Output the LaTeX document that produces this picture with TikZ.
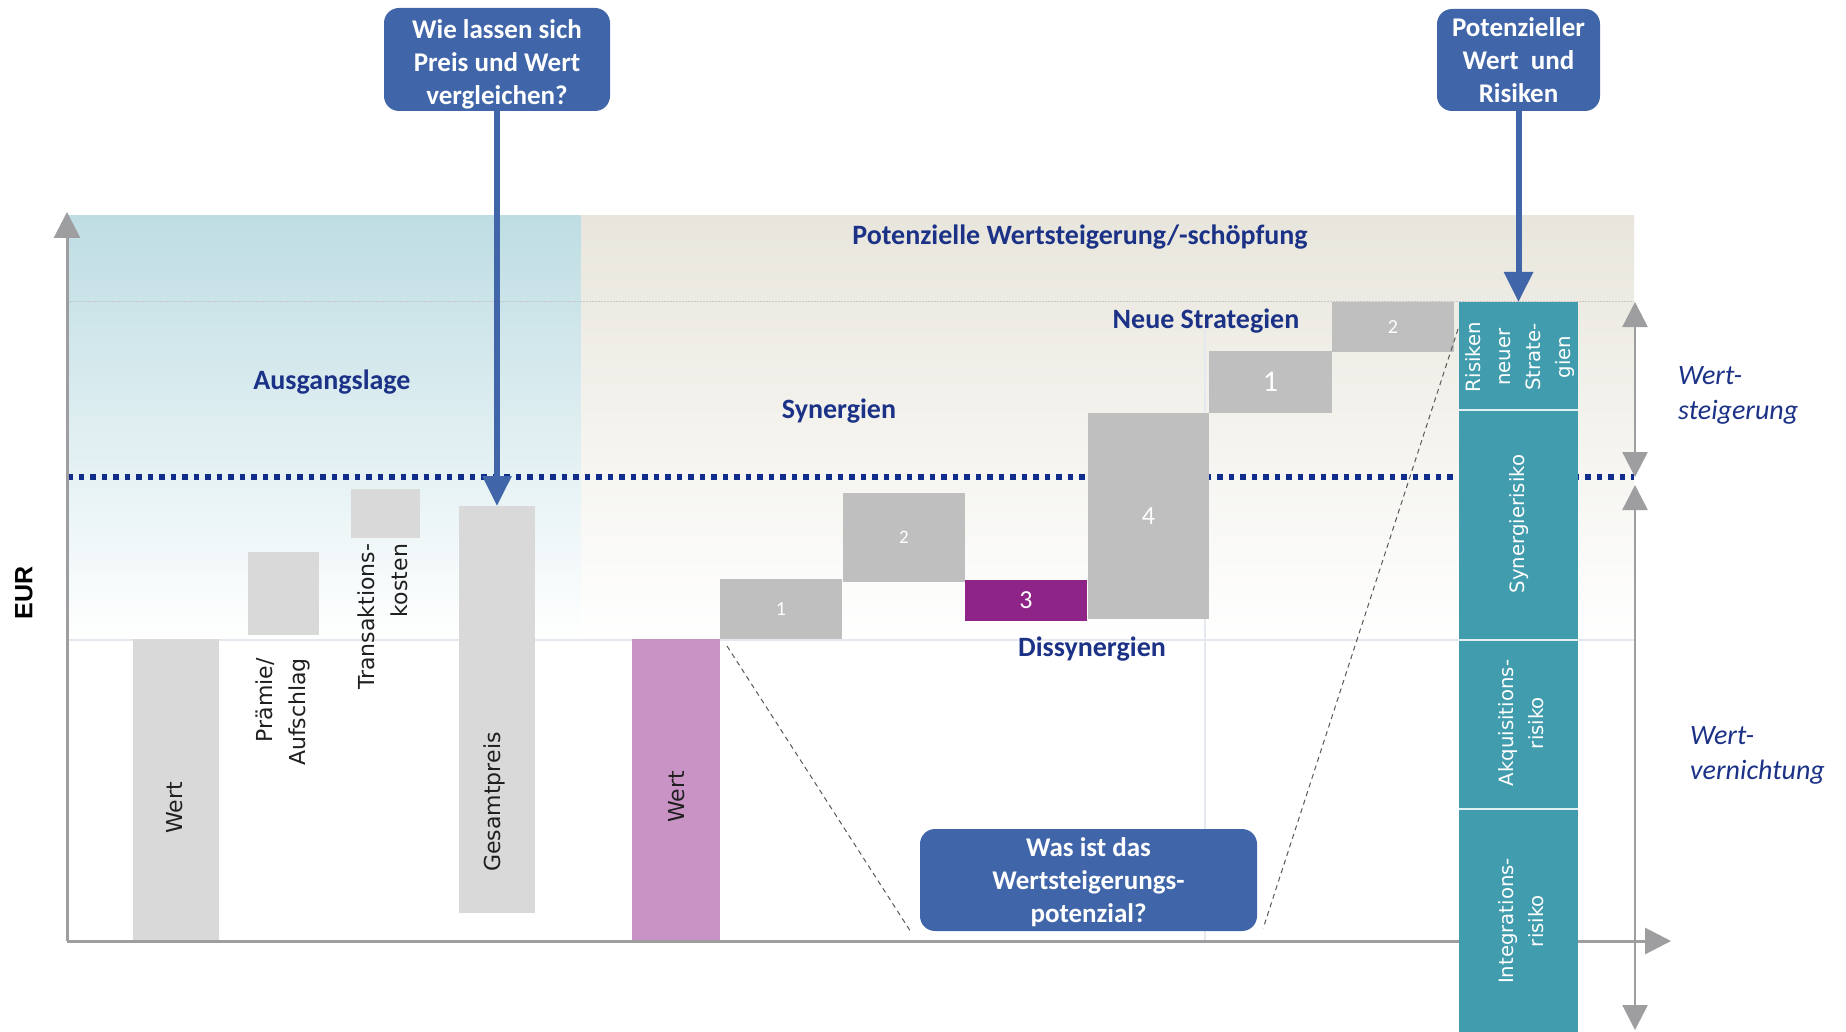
\documentclass[tikz,border=0pt]{standalone}
\usepackage{fontspec}
\setmainfont{Carlito}
\newfontfamily\barfont{DejaVu Sans}
\newfontfamily\axisfont{Liberation Sans}
\usetikzlibrary{arrows.meta,calc}

\definecolor{navy}{RGB}{27,50,135}
\definecolor{calloutblue}{RGB}{64,102,169}
\definecolor{riskteal}{RGB}{65,157,174}
\definecolor{barlight}{RGB}{217,217,217}
\definecolor{barmid}{RGB}{191,191,191}
\definecolor{dissyn}{RGB}{142,36,136}
\definecolor{valuepink}{RGB}{201,147,198}
\definecolor{axisgray}{RGB}{158,158,160}
\definecolor{dotnavy}{RGB}{16,45,140}
\definecolor{bluetop}{RGB}{190,221,227}
\definecolor{beigetop}{RGB}{232,230,220}
\definecolor{faintline}{RGB}{228,233,240}

% extra room above the first line of a question box
\newcommand\firstlinegap{\rule{0pt}{28pt}}

\tikzset{
  bar/.style={rectangle, inner sep=0pt, outer sep=0pt, draw=none},
  num/.style={text=white, font=\fontsize{#1}{#1}\selectfont},
  callout/.style={rectangle, rounded corners=15pt, fill=calloutblue, text=white,
    font=\bfseries\fontsize{27}{33}\selectfont, align=center, inner sep=0pt},
  navylabel/.style={text=navy, font=\bfseries\fontsize{28}{34}\selectfont, inner sep=0pt},
  italiclabel/.style={text=navy, font=\itshape\fontsize{28}{35}\selectfont, inner sep=0pt, align=left},
  rotlabel/.style={rotate=90, font=\barfont\fontsize{22}{33}\selectfont, inner sep=0pt, text=black!88},
  risklabel/.style={rotate=90, font=\barfont\fontsize{19.7}{30}\selectfont, inner sep=0pt, text=white, align=center},
  axisline/.style={draw=axisgray, line width=3pt, -{Triangle[length=26pt,width=26pt]}},
  rangearrow/.style={draw=axisgray, line width=2.5pt,
    {Triangle[length=25pt,width=25pt]}-{Triangle[length=25pt,width=25pt]}},
  callarrow/.style={draw=calloutblue, line width=6pt, -{Triangle[length=30pt,width=28pt]}},
  zoomline/.style={draw=black!65, line width=1pt, dash pattern=on 5pt off 4pt},
}

\begin{document}
\begin{tikzpicture}[x=1pt,y=-1pt]
\useasboundingbox (0,0) rectangle (1846,1032);
\fill[white] (0,0) rectangle (1846,1032);

% background panels
\shade[top color=bluetop, bottom color=white] (67,216) rectangle (581,640);
\shade[top color=beigetop, bottom color=white] (581,216) rectangle (1634,640);

% light guide lines
\draw[gray!45, line width=1pt, dash pattern=on 2pt off 1pt] (67,301) -- (1634,301);
\draw[faintline, line width=1.2pt] (67,640) -- (1634,640);
\draw[faintline, line width=1.2pt] (1205,330) -- (1205,941);

% price level
\draw[dotnavy, line width=5.5pt, dash pattern=on 5.5pt off 6pt] (67,477) -- (1634,477);

% starting position bars
\node[bar, fill=barlight, minimum width=86pt, minimum height=302pt] (wertA) at (176,790) {};
\node[bar, fill=barlight, minimum width=71pt, minimum height=83pt] (praemie) at (283.5,593.5) {};
\node[bar, fill=barlight, minimum width=69pt, minimum height=49pt] (trans) at (385.5,513.5) {};
\node[bar, fill=barlight, minimum width=76pt, minimum height=407pt] (gesamt) at (497,709.5) {};

% value creation bars
\node[bar, fill=valuepink, minimum width=88pt, minimum height=302pt] (wertB) at (676,790) {};
\node[bar, fill=barmid, minimum width=122pt, minimum height=60pt, num=20] (s1) at (781,609) {1};
\node[bar, fill=barmid, minimum width=122pt, minimum height=89pt, num=19] (s2) at (904,537.5) {2};
\node[bar, fill=dissyn, minimum width=122pt, minimum height=41pt, num=26] (d3) at (1026,600.5) {3};
\node[bar, fill=barmid, minimum width=121pt, minimum height=206pt, num=26] (s4) at (1148.5,516) {4};
\node[bar, fill=barmid, minimum width=123pt, minimum height=62pt, num=30] (n1) at (1270.5,382) {1};
\node[bar, fill=barmid, minimum width=122pt, minimum height=50pt, num=20] (n2) at (1393,327) {2};

% axes
\coordinate (origin) at (67,941);
\coordinate (ytip) at (67,212);
\coordinate (xtip) at (1671,941);
\draw[axisline] (origin) -- (ytip);
\draw[axisline] (origin) -- (xtip);

% risk column
\node[bar, fill=riskteal, minimum width=119pt, minimum height=108pt] (r1) at (1518.5,356) {};
\node[bar, fill=riskteal, minimum width=119pt, minimum height=230pt] (r2) at (1518.5,525) {};
\node[bar, fill=riskteal, minimum width=119pt, minimum height=169pt] (r3) at (1518.5,724.5) {};
\node[bar, fill=riskteal, minimum width=119pt, minimum height=223pt] (r4) at (1518.5,920.5) {};
\draw[white!85!riskteal, line width=2pt] (r1.south west) -- (r1.south east);
\draw[white!85!riskteal, line width=2pt] (r2.south west) -- (r2.south east);
\draw[white!85!riskteal, line width=2pt] (r3.south west) -- (r3.south east);

\node[risklabel] (lr1) at (1520,357) {Risiken\\neuer\\Strate-\\gien};
\node[risklabel] (lr2) at (1519,524) {Synergierisiko};
\node[risklabel] (lr3) at (1521,723) {Akquisitions-\\risiko};
\node[risklabel] (lr4) at (1521,921) {Integrations-\\risiko};

% bar captions
\node[rotlabel] (lwertA) at (175,808) {Wert};
\node[rotlabel, align=right] (lpraemie) at (283,712) {Prämie/\\Aufschlag};
\node[rotlabel, align=right] (ltrans) at (383,617) {Transaktions-\\kosten};
\node[rotlabel] (lgesamt) at (494,802) {Gesamtpreis};
\node[rotlabel] (lwertB) at (677,797) {Wert};

% section headings
\node[navylabel] (ausgang) at (332,382) {Ausgangslage};
\node[navylabel] (potwert) at (1080,237) {Potenzielle Wertsteigerung/-schöpfung};
\node[navylabel] (neuestr) at (1206,321) {Neue Strategien};
\node[navylabel] (synerg) at (839,411) {Synergien};
\node[navylabel] (dissynl) at (1092,649) {Dissynergien};

\node[italiclabel, anchor=west] (wsteig) at (1678,395) {Wert-\\steigerung};
\node[italiclabel, anchor=west] (wvern) at (1690,755) {Wert-\\vernichtung};

\node[rotate=90, inner sep=0pt, font=\axisfont\bfseries\fontsize{25}{25}\selectfont] (eur) at (24,593) {EUR};

% value range arrows
\coordinate (ws1) at (1635,302);
\coordinate (ws2) at (1635,477);
\coordinate (wv1) at (1635,485);
\coordinate (wv2) at (1635,1030);
\draw[rangearrow] (ws1) -- (ws2);
\draw[rangearrow] (wv1) -- (wv2);

% question boxes
\node[callout, minimum width=226pt, minimum height=103pt] (qA) at (497,59.5)
  {\firstlinegap Wie lassen sich\\Preis und Wert\\vergleichen?};
\node[callout, minimum width=163pt, minimum height=102pt] (qB) at (1518.5,60)
  {Potenzieller\\Wert~ und\\Risiken};
\node[callout, minimum width=337pt, minimum height=102pt] (qC) at (1088.5,880)
  {\rule{0pt}{24pt}Was ist das\\Wertsteigerungs-\\potenzial?};

\draw[callarrow] (qA.south) -- (gesamt.north);
\draw[callarrow] (qB.south) -- (r1.north);

% zoom lines towards the value creation question
\coordinate (zl1) at ($(s1.south west)+(7,7)$);
\coordinate (zl2) at ($(qC.south west)+(-10,-1)$);
\coordinate (zr1) at ($(n2.north east)+(4,27)$);
\coordinate (zr2) at ($(qC.south east)+(6,-3)$);
\draw[zoomline] (zl1) -- (zl2);
\draw[zoomline] (zr1) -- (zr2);
\end{tikzpicture}
\end{document}
